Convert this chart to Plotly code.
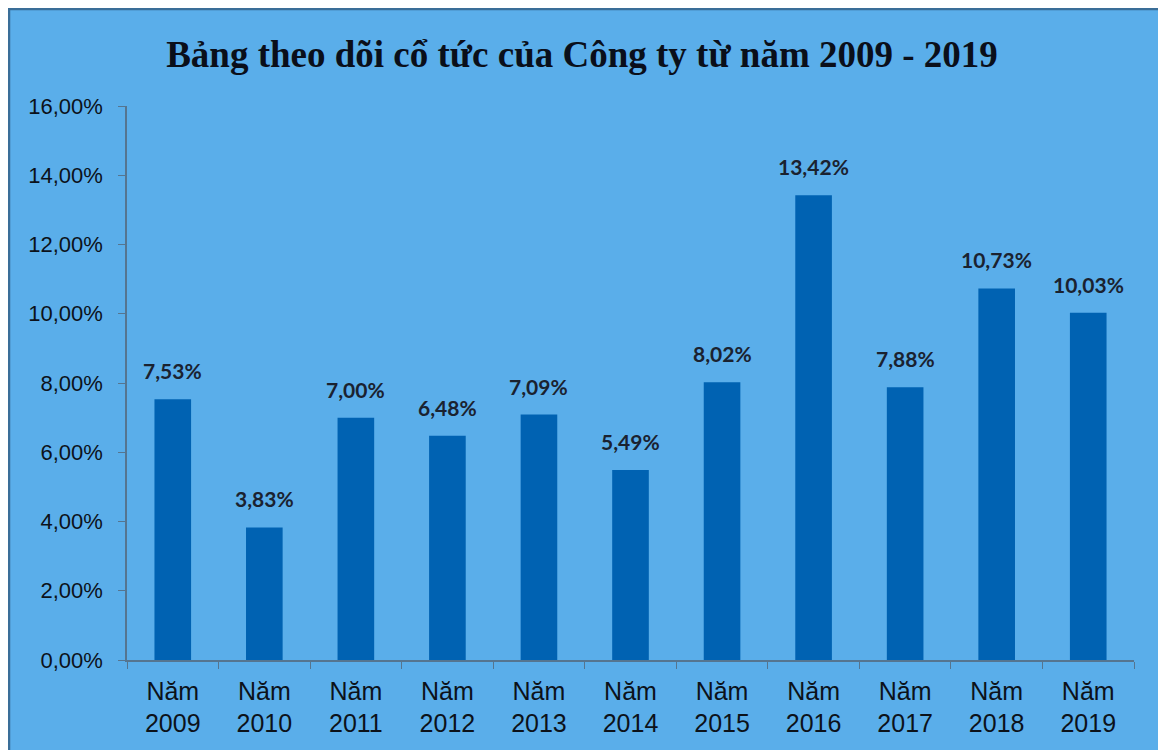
import plotly.graph_objects as go

categories = ["Năm<br>2009", "Năm<br>2010", "Năm<br>2011", "Năm<br>2012", "Năm<br>2013", "Năm<br>2014",
              "Năm<br>2015", "Năm<br>2016", "Năm<br>2017", "Năm<br>2018", "Năm<br>2019"]
values = [7.53, 3.83, 7.00, 6.48, 7.09, 5.49, 8.02, 13.42, 7.88, 10.73, 10.03]
labels = ["7,53%", "3,83%", "7,00%", "6,48%", "7,09%", "5,49%", "8,02%", "13,42%", "7,88%", "10,73%", "10,03%"]
y_ticks = [0, 2, 4, 6, 8, 10, 12, 14, 16]
y_tick_labels = ["0,00%", "2,00%", "4,00%", "6,00%", "8,00%", "10,00%", "12,00%", "14,00%", "16,00%"]

W, H = 1154, 742
L, R, T, B = 119, 28, 98, 90
pw, ph = W - L - R, H - T - B

fig = go.Figure()
fig.add_trace(go.Bar(
    x=categories, y=values,
    marker=dict(color="#0062b2", line=dict(width=0)),
))
for c, v, t in zip(categories, values, labels):
    fig.add_annotation(x=c, y=v, text=t, showarrow=False, yanchor="bottom", yshift=14,
                       font=dict(family="Lato, Liberation Sans, sans-serif", size=21, color="#1a2230",
                                 weight="bold"))

fig.update_layout(
    width=W, height=H,
    paper_bgcolor="#5aaeea", plot_bgcolor="#5aaeea",
    margin=dict(l=L, r=R, t=T, b=B, autoexpand=False),
    bargap=0.6,
    showlegend=False,
    title=dict(text="<b>Bảng theo dõi cổ tức của Công ty từ năm 2009 - 2019</b>",
               x=(582 - 8) / W, xanchor="center", y=1 - 46 / H, yanchor="middle",
               font=dict(family="Liberation Serif, Times New Roman, serif", size=37, color="#0a0f1a")),
    xaxis=dict(showline=True, linecolor="#557590", linewidth=1.5, ticks="outside", tickson="boundaries",
               ticklen=7, tickcolor="#557590", ticklabelstandoff=8,
               tickfont=dict(family="Liberation Sans, Arial, sans-serif", size=25, color="#0c121a")),
    yaxis=dict(range=[0, 16], tickvals=y_ticks, ticktext=y_tick_labels, showgrid=False,
               showline=True, linecolor="#557590", linewidth=1.5, ticks="outside", ticklen=7,
               tickcolor="#557590", zeroline=False, ticklabelstandoff=11,
               tickfont=dict(family="Liberation Sans, Arial, sans-serif", size=22, color="#0c121a")),
)
fig.add_shape(type="rect", xref="paper", yref="paper",
              x0=-(L - 1) / pw, x1=(W - L - 1) / pw, y0=-(B + 10) / ph, y1=(H - B - 1) / ph,
              line=dict(color="#3a6e98", width=2.5), fillcolor="rgba(0,0,0,0)", layer="below")

fig.write_html("out.html")
